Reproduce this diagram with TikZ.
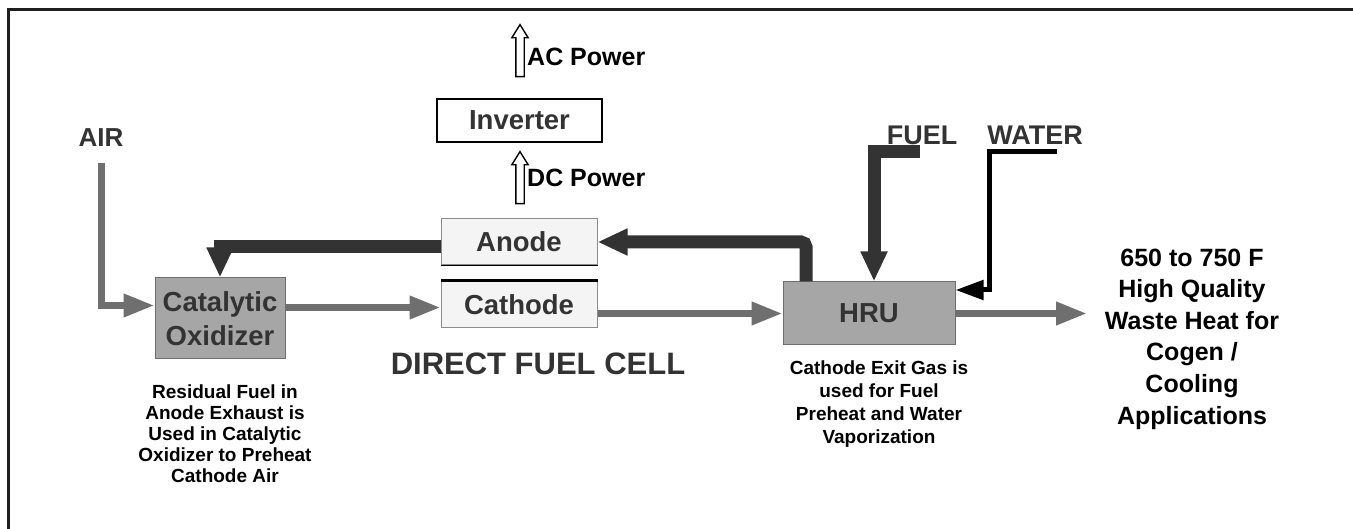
\documentclass[tikz,border=0pt]{standalone}
\usepackage{fontspec}
\setmainfont{Liberation Sans}
\usepackage{tikz}
\usetikzlibrary{positioning,arrows.meta,shapes.arrows}
\definecolor{fcline}{HTML}{333333}
\definecolor{fcgrey}{HTML}{6F6F6F}
\definecolor{fcbox}{HTML}{A6A6A6}
\definecolor{fcboxline}{HTML}{6E6E6E}
\definecolor{fccell}{HTML}{F4F4F4}
\definecolor{fccellline}{HTML}{8C8C8C}

\begin{document}
\begin{tikzpicture}[x=1pt, y=-1pt,
  box/.style={draw=fcboxline, fill=#1, text=fcline, align=center, inner sep=0pt,
              line width=1pt, font=\bfseries\fontsize{27.5}{34}\selectfont},
  box/.default=fcbox,
  lbl/.style={text=fcline, inner sep=0pt, font=\bfseries\fontsize{27}{32}\selectfont},
  note/.style={align=center, inner sep=0pt, font=\bfseries\fontsize{19}{21}\selectfont},
  pwrlbl/.style={anchor=west, inner sep=0pt, font=\bfseries\fontsize{25}{28}\selectfont},
  flow/.style={-{Triangle[length=31pt, width=22pt]}, line width=7pt, draw=fcgrey},
  feed/.style={-{Triangle[length=30pt, width=25pt]}, line width=13pt, draw=fcline},
  water/.style={-{Triangle[length=28pt, width=19pt]}, line width=5pt, draw=black},
  power/.style={single arrow, draw=black, fill=white, line width=1.4pt, rotate=90,
                minimum height=52pt, inner xsep=0pt, inner ysep=3.5pt,
                single arrow head extend=4pt, single arrow tip angle=64},
]
  \useasboundingbox (0,0) rectangle (1353,529);
  \draw[line width=3pt, black!88] (1353,10) -- (8.5,10) -- (8.5,529);

  % boxes
  \node[box, minimum width=130pt, minimum height=81pt] (catox) at (220,318.5)
    {Catalytic\\Oxidizer};
  \node[box=fccell, draw=fccellline, minimum width=156pt, minimum height=46pt] (anode) at (519,242)
    {Anode};
  \node[box=fccell, draw=fccellline, minimum width=156pt, minimum height=47pt] (cathode) at (519,304.5)
    {Cathode};
  \node[box, minimum width=172pt, minimum height=63pt] (hru) at (869,313.5) {HRU};
  \node[box=white, draw=black, line width=2.2pt, minimum width=165pt, minimum height=43pt] (inv)
    at (519.5,120.5) {Inverter};
  \draw[line width=1.5pt] (anode.south west) -- (anode.south east);
  \draw[line width=2.5pt] (cathode.north west) -- (cathode.north east);

  % power arrows
  \node[power] (acarr) at (520,54) {};
  \node[power] (dcarr) at (520,181) {};
  \node[pwrlbl] (aclbl) at (527,57) {AC Power};
  \node[pwrlbl] (dclbl) at (527,178) {DC Power};

  % stream labels
  \node[lbl, font=\bfseries\fontsize{26}{30}\selectfont] (air) at (101,137.5) {AIR};
  \node[lbl] (fuel) at (922,135) {FUEL};
  \node[lbl] (wat) at (1035,135) {WATER};
  \node[lbl, font=\bfseries\fontsize{31}{34}\selectfont] (dfc) at (538,364) {DIRECT FUEL CELL};

  \node[note] (oxnote) at (225,434)
    {Residual Fuel in\\Anode Exhaust is\\Used in Catalytic\\Oxidizer to Preheat\\Cathode Air};
  \node[note, font=\bfseries\fontsize{19}{23}\selectfont] (hrunote) at (879,404.5)
    {Cathode Exit Gas is\\used for Fuel\\Preheat and Water\\Vaporization};
  \node[note, font=\bfseries\fontsize{25}{31.6}\selectfont] (heat) at (1192,339)
    {650 to 750 F\\High Quality\\Waste Heat for\\Cogen /\\Cooling\\Applications};

  \coordinate (fuelin) at (920,152);
  \coordinate (waterin) at (1057,152);
  \coordinate (waterbend) at (989,290);
  \coordinate (heatin) at (1087,313.5);

  % streams
  \draw[flow] ([yshift=-16pt]air.south) |- ([yshift=13pt]catox.west);
  \draw[flow] ([yshift=-3pt]catox.east |- cathode.west) -- ([yshift=-3pt]cathode.west);
  \draw[feed] ([yshift=-5pt]anode.west) -| (catox.north);
  \draw[flow] (cathode.east |- hru.west) -- (hru.west);
  \draw[feed, rounded corners=5pt] ([xshift=-63pt]hru.north) |- (anode.east);
  \draw[feed] (fuelin) -| ([xshift=5pt]hru.north);
  \draw[water] (waterin) -| (waterbend) -- (waterbend -| hru.east);
  \draw[flow] (hru.east) -- (heatin);
\end{tikzpicture}
\end{document}
